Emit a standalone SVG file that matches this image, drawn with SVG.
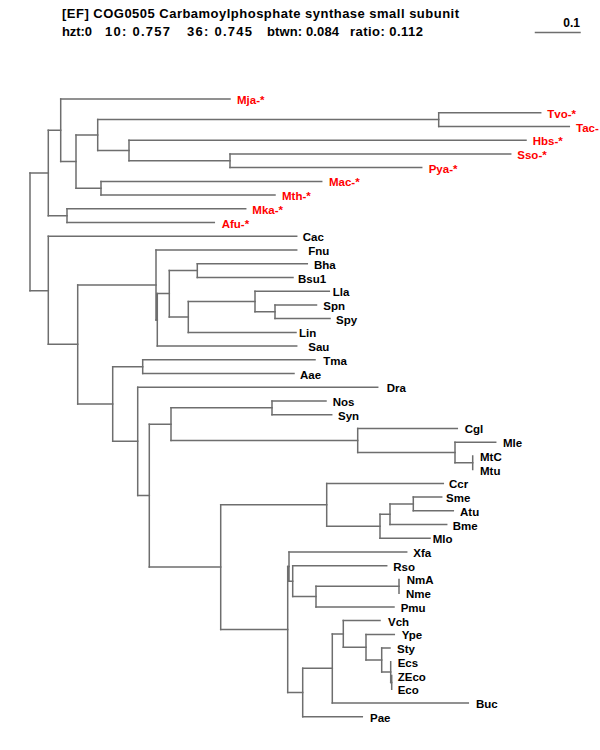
<svg xmlns="http://www.w3.org/2000/svg" width="600" height="750" viewBox="0 0 600 750">
<style>
.t{font-family:"Liberation Sans",Arial,sans-serif;font-weight:bold;font-size:13px;fill:#000}
.l{font-family:"Liberation Sans",Arial,sans-serif;font-weight:bold;font-size:11.5px;fill:#000}
.r{fill:#ff0000}
.e{fill:none;stroke:#6e6e6e;stroke-width:1.5;stroke-linecap:square}
</style>
<rect width="600" height="750" fill="#fff"/>
<g id="title">
<text class="t" x="62" y="18" textLength="397" lengthAdjust="spacing">[EF] COG0505 Carbamoylphosphate synthase small subunit</text>
<text class="t" x="62" y="36" textLength="30" lengthAdjust="spacing">hzt:0</text>
<text class="t" x="105" y="36" textLength="65" lengthAdjust="spacing">10: 0.757</text>
<text class="t" x="187" y="36" textLength="65" lengthAdjust="spacing">36: 0.745</text>
<text class="t" x="267" y="36" textLength="72" lengthAdjust="spacing">btwn: 0.084</text>
<text class="t" x="350" y="36" textLength="73" lengthAdjust="spacing">ratio: 0.112</text>
</g>
<g id="scale">
<path class="e" d="M535.5 32.5H580"/>
<text class="l" x="580" y="27" text-anchor="end" style="font-size:12px">0.1</text>
</g>
<g id="connectors">
<path class="e" d="M30 173V290.7M48.3 130.3V215.7M60.7 99V161.6M76 135V188.2M97.7 119.6V150.5M438.7 112.7V126.5M129 140.2V160.75M230 153.9V167.6M101 181.4V195.1M67 208.8V222.5M48.3 236.3V344.35M77.7 284.9V403.9M156 250V319.9M157.3 293.6V346.1M169.3 270.6V316.9M197.3 263.7V277.5M188.3 301.5V332.4M255 291.2V311.75M275 304.9V318.6M112.7 366.65V441.25M142.7 359.8V373.5M137.7 387.3V495.6M149.3 424.3V567M171 407.85V440.45M272 401V414.7M357.7 428.4V452.5M455 442.2V462.75M472.7 455.9V469.6M220.7 504.75V629.4M326.7 483.4V526.25M380 514.25V538.3M390 504V524.5M413.3 497.1V510.8M287.7 566.55V692.45M289 552V581.15M292.7 565.7V596.6M316 586.3V606.9M399 579.4V593.2M302.7 668.35V716.7M332.3 633.9V703M343.3 620.6V647.3M366 634.4V660.1M381.7 648.1V672.1M390.7 661.8V682.4M391.7 675.5V689.3"/>
<path class="e" d="M30 173H48.3M30 290.7H48.3M48.3 130.3H60.7M48.3 215.7H67M60.7 161.6H76M76 135H97.7M76 188.2H101M97.7 119.6H438.7M97.7 150.5H129M129 160.75H230M48.3 344.35H77.7M77.7 284.9H156M77.7 403.9H112.7M156 319.9H157.3M157.3 293.6H169.3M169.3 270.6H197.3M169.3 316.9H188.3M188.3 301.5H255M255 311.75H275M112.7 366.65H142.7M112.7 441.25H137.7M137.7 495.6H149.3M149.3 424.3H171M149.3 567H220.7M171 407.85H272M171 440.45H357.7M357.7 452.5H455M455 462.75H472.7M220.7 504.75H326.7M220.7 629.4H287.7M326.7 526.25H380M380 514.25H390M390 504H413.3M287.7 566.55H289M287.7 692.45H302.7M289 581.15H292.7M292.7 596.6H316M316 586.3H399M302.7 668.35H332.3M332.3 633.9H343.3M343.3 647.3H366M366 660.1H381.7M381.7 672.1H390.7M390.7 682.4H391.7"/>
<path class="e" d="M60.7 99H230M438.7 112.7H540.7M438.7 126.5H569.3M129 140.2H526M230 153.9H510.7M230 167.6H421.7M101 181.4H321.7M101 195.1H275M67 208.8H245.7M67 222.5H214.3M48.3 236.3H296.7M156 250H296.7M197.3 263.7H307.3M197.3 277.5H293M255 291.2H329.3M275 304.9H316.5M275 318.6H330M188.3 332.4H296M157.3 346.1H296.7M142.7 359.8H315M142.7 373.5H294M137.7 387.3H377.7M272 401H326M272 414.7H331.7M357.7 428.4H457.3M455 442.2H495.7M326.7 483.4H443.3M413.3 497.1H441.7M413.3 510.8H453.3M390 524.5H446.7M380 538.3H430M289 552H406.7M292.7 565.7H386.7M316 606.9H394M343.3 620.6H380M366 634.4H394.3M381.7 648.1H390M332.3 703H468.3M302.7 716.7H362.3"/>
</g>
<g id="nodes">
<g id="n-Mja"><text class="l r" x="237" y="104">Mja-*</text></g>
<g id="n-Tvo"><text class="l r" x="547.3" y="117.7">Tvo-*</text></g>
<g id="n-Tac"><text class="l r" x="576" y="131.5">Tac-</text></g>
<g id="n-Hbs"><text class="l r" x="532.7" y="145.2">Hbs-*</text></g>
<g id="n-Sso"><text class="l r" x="517.3" y="158.9">Sso-*</text></g>
<g id="n-Pya"><text class="l r" x="428.7" y="172.6">Pya-*</text></g>
<g id="n-Mac"><text class="l r" x="329" y="186.4">Mac-*</text></g>
<g id="n-Mth"><text class="l r" x="282" y="200.1">Mth-*</text></g>
<g id="n-Mka"><text class="l r" x="252.3" y="213.8">Mka-*</text></g>
<g id="n-Afu"><text class="l r" x="221.7" y="227.5">Afu-*</text></g>
<g id="n-Cac"><text class="l" x="302.7" y="241.3">Cac</text></g>
<g id="n-Fnu"><text class="l" x="308.3" y="255">Fnu</text></g>
<g id="n-Bha"><text class="l" x="314" y="268.7">Bha</text></g>
<g id="n-Bsu1"><text class="l" x="298" y="282.5">Bsu1</text></g>
<g id="n-Lla"><text class="l" x="332.7" y="296.2">Lla</text></g>
<g id="n-Spn"><text class="l" x="323.3" y="309.9">Spn</text></g>
<g id="n-Spy"><text class="l" x="336" y="323.6">Spy</text></g>
<g id="n-Lin"><text class="l" x="299" y="337.4">Lin</text></g>
<g id="n-Sau"><text class="l" x="308.3" y="351.1">Sau</text></g>
<g id="n-Tma"><text class="l" x="323.3" y="364.8">Tma</text></g>
<g id="n-Aae"><text class="l" x="300" y="378.5">Aae</text></g>
<g id="n-Dra"><text class="l" x="386.7" y="392.3">Dra</text></g>
<g id="n-Nos"><text class="l" x="332.7" y="406">Nos</text></g>
<g id="n-Syn"><text class="l" x="338" y="419.7">Syn</text></g>
<g id="n-Cgl"><text class="l" x="464.7" y="433.4">Cgl</text></g>
<g id="n-Mle"><text class="l" x="503" y="447.2">Mle</text></g>
<g id="n-MtC"><text class="l" x="480" y="460.9">MtC</text></g>
<g id="n-Mtu"><text class="l" x="480" y="474.6">Mtu</text></g>
<g id="n-Ccr"><text class="l" x="449" y="488.4">Ccr</text></g>
<g id="n-Sme"><text class="l" x="446" y="502.1">Sme</text></g>
<g id="n-Atu"><text class="l" x="460" y="515.8">Atu</text></g>
<g id="n-Bme"><text class="l" x="452.7" y="529.5">Bme</text></g>
<g id="n-Mlo"><text class="l" x="432.7" y="543.3">Mlo</text></g>
<g id="n-Xfa"><text class="l" x="413.3" y="557">Xfa</text></g>
<g id="n-Rso"><text class="l" x="393.3" y="570.7">Rso</text></g>
<g id="n-NmA"><text class="l" x="406.7" y="584.4">NmA</text></g>
<g id="n-Nme"><text class="l" x="406" y="598.2">Nme</text></g>
<g id="n-Pmu"><text class="l" x="400.7" y="611.9">Pmu</text></g>
<g id="n-Vch"><text class="l" x="388" y="625.6">Vch</text></g>
<g id="n-Ype"><text class="l" x="401.7" y="639.4">Ype</text></g>
<g id="n-Sty"><text class="l" x="397" y="653.1">Sty</text></g>
<g id="n-Ecs"><text class="l" x="397.7" y="666.8">Ecs</text></g>
<g id="n-ZEco"><text class="l" x="397.7" y="680.5">ZEco</text></g>
<g id="n-Eco"><text class="l" x="397.7" y="694.3">Eco</text></g>
<g id="n-Buc"><text class="l" x="476" y="708">Buc</text></g>
<g id="n-Pae"><text class="l" x="370" y="721.7">Pae</text></g>
</g>
</svg>
